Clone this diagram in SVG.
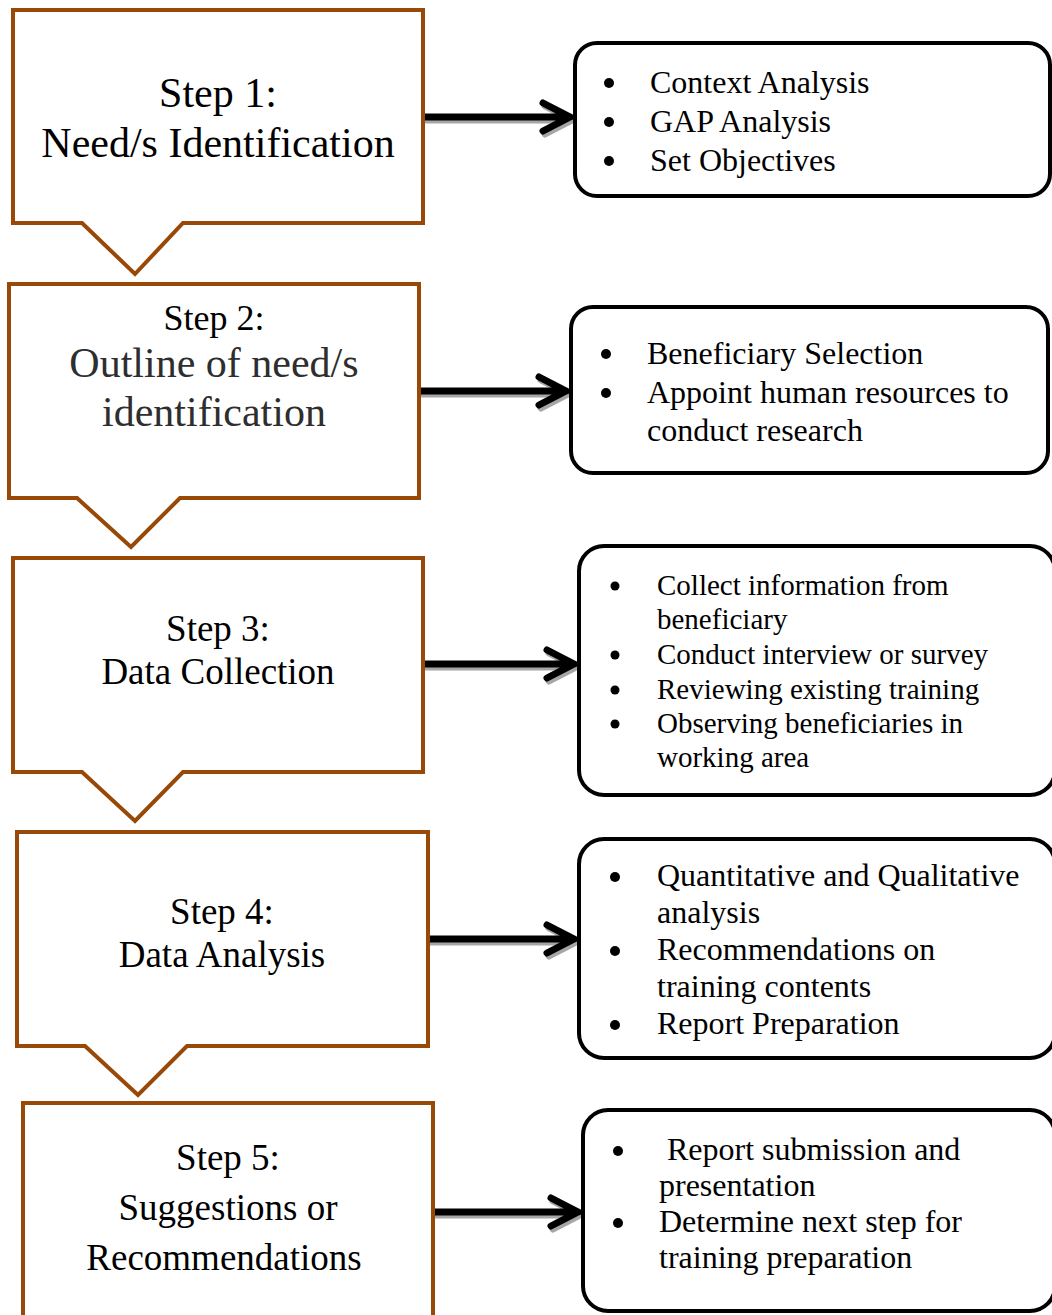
<svg xmlns="http://www.w3.org/2000/svg" width="1052" height="1315" viewBox="0 0 1052 1315">
<defs>
<style>
.step{fill:#ffffff;stroke:#984807;stroke-width:4;stroke-linejoin:miter}
.box{fill:#ffffff;stroke:#000000;stroke-width:4}
.st{font-family:"Liberation Serif","Times New Roman",serif;fill:#000000;text-anchor:middle}
.gr{fill:#2e2e2e}
.it{font-family:"Liberation Serif","Times New Roman",serif;fill:#000000}
.bul{fill:#000000}
.arr{fill:none;stroke:#000000;stroke-width:7;stroke-linecap:round;stroke-linejoin:miter}
.sh{fill:none;stroke:#a6a6a6;stroke-width:7;stroke-linecap:round;stroke-linejoin:miter}
</style>
</defs>
<rect width="1052" height="1315" fill="#ffffff"/>

<g id="connectors">
  <g transform="translate(2,3)">
    <path class="sh" d="M424,117 H570 M543,103 L570,117 L543,131"/>
    <path class="sh" d="M420,391 H566 M539,377 L566,391 L539,405"/>
    <path class="sh" d="M424,664 H574 M547,650 L574,664 L547,678"/>
    <path class="sh" d="M428,939 H574 M547,925 L574,939 L547,953"/>
    <path class="sh" d="M434,1212 H578 M551,1198 L578,1212 L551,1226"/>
  </g>
  <path class="arr" d="M424,117 H570 M543,103 L570,117 L543,131"/>
  <path class="arr" d="M420,391 H566 M539,377 L566,391 L539,405"/>
  <path class="arr" d="M424,664 H574 M547,650 L574,664 L547,678"/>
  <path class="arr" d="M428,939 H574 M547,925 L574,939 L547,953"/>
  <path class="arr" d="M434,1212 H578 M551,1198 L578,1212 L551,1226"/>
</g>

<g id="step1">
  <path class="step" d="M13,10 H423 V223 H183 L135,274 L82,223 H13 Z"/>
  <text class="st" x="218" y="107" font-size="42">Step 1:</text>
  <text class="st" x="218" y="157" font-size="42">Need/s Identification</text>
</g>
<g id="step2">
  <path class="step" d="M9,284 H419 V498 H180 L131,547 L77,498 H9 Z"/>
  <text class="st" x="214" y="330" font-size="36">Step 2:</text>
  <text class="st gr" x="214" y="377" font-size="42">Outline of need/s</text>
  <text class="st gr" x="214" y="426" font-size="42">identification</text>
</g>
<g id="step3">
  <path class="step" d="M13,558 H423 V772 H183 L135,821 L82,772 H13 Z"/>
  <text class="st" x="218" y="641" font-size="37">Step 3:</text>
  <text class="st" x="218" y="684" font-size="37">Data Collection</text>
</g>
<g id="step4">
  <path class="step" d="M17,832 H428 V1046 H187 L138,1095 L85,1046 H17 Z"/>
  <text class="st" x="222" y="924" font-size="37">Step 4:</text>
  <text class="st" x="222" y="967" font-size="37">Data Analysis</text>
</g>
<g id="step5">
  <path class="step" d="M23,1103 H433 V1330 H23 Z"/>
  <text class="st" x="228" y="1170" font-size="37">Step 5:</text>
  <text class="st" x="228" y="1220" font-size="37">Suggestions or</text>
  <text class="st" x="224" y="1270" font-size="37">Recommendations</text>
</g>

<g id="detail1">
  <rect class="box" x="575" y="43" width="475" height="153" rx="22"/>
  <circle class="bul" cx="609" cy="83" r="5"/>
  <circle class="bul" cx="609" cy="122" r="5"/>
  <circle class="bul" cx="609" cy="161" r="5"/>
  <text class="it" x="650" y="93" font-size="32">Context Analysis</text>
  <text class="it" x="650" y="132" font-size="32">GAP Analysis</text>
  <text class="it" x="650" y="171" font-size="32">Set Objectives</text>
</g>
<g id="detail2">
  <rect class="box" x="571" y="307" width="477" height="166" rx="22"/>
  <circle class="bul" cx="606" cy="354" r="5"/>
  <circle class="bul" cx="606" cy="393" r="5"/>
  <text class="it" x="647" y="364" font-size="32">Beneficiary Selection</text>
  <text class="it" x="647" y="403" font-size="32">Appoint human resources to</text>
  <text class="it" x="647" y="441" font-size="32">conduct research</text>
</g>
<g id="detail3">
  <rect class="box" x="579" y="546" width="476" height="249" rx="25"/>
  <circle class="bul" cx="615" cy="586" r="4.5"/>
  <circle class="bul" cx="615" cy="655" r="4.5"/>
  <circle class="bul" cx="615" cy="690" r="4.5"/>
  <circle class="bul" cx="615" cy="724" r="4.5"/>
  <text class="it" x="657" y="595" font-size="29">Collect information from</text>
  <text class="it" x="657" y="629" font-size="29">beneficiary</text>
  <text class="it" x="657" y="664" font-size="29">Conduct interview or survey</text>
  <text class="it" x="657" y="699" font-size="29">Reviewing existing training</text>
  <text class="it" x="657" y="733" font-size="29">Observing beneficiaries in</text>
  <text class="it" x="657" y="767" font-size="29">working area</text>
</g>
<g id="detail4">
  <rect class="box" x="579" y="839" width="476" height="219" rx="25"/>
  <circle class="bul" cx="615" cy="877" r="5"/>
  <circle class="bul" cx="615" cy="951" r="5"/>
  <circle class="bul" cx="615" cy="1025" r="5"/>
  <text class="it" x="657" y="886" font-size="32">Quantitative and Qualitative</text>
  <text class="it" x="657" y="923" font-size="32">analysis</text>
  <text class="it" x="657" y="960" font-size="32">Recommendations on</text>
  <text class="it" x="657" y="997" font-size="32">training contents</text>
  <text class="it" x="657" y="1034" font-size="32">Report Preparation</text>
</g>
<g id="detail5">
  <rect class="box" x="583" y="1110" width="472" height="201" rx="25"/>
  <circle class="bul" cx="618" cy="1151" r="5"/>
  <circle class="bul" cx="618" cy="1223" r="5"/>
  <text class="it" x="667" y="1160" font-size="32">Report submission and</text>
  <text class="it" x="659" y="1196" font-size="32">presentation</text>
  <text class="it" x="659" y="1232" font-size="32">Determine next step for</text>
  <text class="it" x="659" y="1268" font-size="32">training preparation</text>
</g>
</svg>
